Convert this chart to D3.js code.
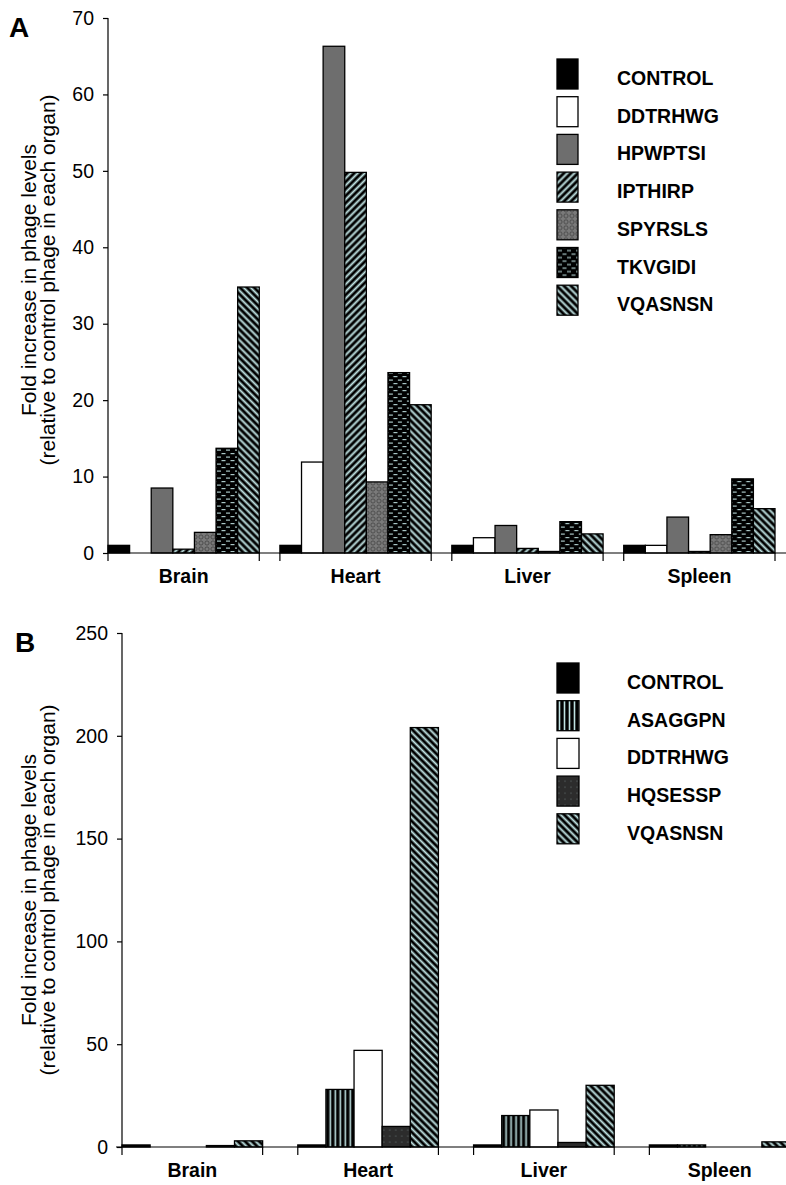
<!DOCTYPE html>
<html>
<head>
<meta charset="utf-8">
<script src="https://cdn.jsdelivr.net/npm/d3@7"></script>
<style>
  body { margin: 0; background: #fff; }
  svg { display: block; font-family: Arial, "Liberation Sans", sans-serif; }
</style>
</head>
<body>
<svg id="chart" width="786" height="1185"></svg>
<script>
var organs = ["Brain", "Heart", "Liver", "Spleen"];

// panel A
var peptidesA = ["CONTROL", "DDTRHWG", "HPWPTSI", "IPTHIRP", "SPYRSLS", "TKVGIDI", "VQASNSN"];
var controlA = [1, 1, 1, 1];
var ddtrhwgA = [0, 11.9, 2.0, 1.0];
var hpwptsiA = [8.5, 66.3, 3.6, 4.7];
var ipthirpA = [0.5, 49.8, 0.6, 0.2];
var spyrslsA = [2.7, 9.3, 0.2, 2.4];
var tkvgidiA = [13.7, 23.6, 4.1, 9.7];
var vqasnsnA = [34.8, 19.4, 2.5, 5.8];
var ticksA = [0, 10, 20, 30, 40, 50, 60, 70];

// panel B
var peptidesB = ["CONTROL", "ASAGGPN", "DDTRHWG", "HQSESSP", "VQASNSN"];
var controlB = [1, 1, 1, 1];
var asaggpnB = [0, 28, 15.3, 1];
var ddtrhwgB = [0, 47, 18, 0];
var hqsesspB = [0.7, 10, 2.2, 0];
var vqasnsnB = [3, 204, 30, 2.5];
var ticksB = [0, 50, 100, 150, 200, 250];

var titleLines = ["Fold increase in phage levels", "(relative to control phage in each organ)"];

var fills = {
  CONTROL: "#000",
  DDTRHWG: "#fff",
  HPWPTSI: "#6e6e6e",
  IPTHIRP: "url(#diagUp)",
  SPYRSLS: "url(#weave)",
  TKVGIDI: "url(#dashes)",
  VQASNSN: "url(#diagDown)",
  ASAGGPN: "url(#vert)",
  HQSESSP: "url(#dots)"
};

var svg = d3.select("#chart");
var light = "#bfe2e2";
var defs = svg.append("defs");

function stripes(id, angle, size, w) {
  var p = defs.append("pattern").attr("id", id)
    .attr("patternUnits", "userSpaceOnUse")
    .attr("width", size).attr("height", size)
    .attr("patternTransform", "rotate(" + angle + ")");
  p.append("rect").attr("width", size).attr("height", size).attr("fill", "#000");
  p.append("rect").attr("x", (size - w) / 2).attr("width", w).attr("height", size).attr("fill", light);
}
stripes("diagUp", 45, 5, 2);
stripes("diagDown", -45, 5, 2);
stripes("vert", 0, 5, 1.6);

var dash = defs.append("pattern").attr("id", "dashes")
  .attr("patternUnits", "userSpaceOnUse").attr("width", 9).attr("height", 7);
dash.append("rect").attr("width", 9).attr("height", 7).attr("fill", "#000");
dash.append("rect").attr("x", 1).attr("y", 1.5).attr("width", 4).attr("height", 1.2).attr("fill", "#a9c6c6");
dash.append("rect").attr("x", 5.5).attr("y", 5).attr("width", 4).attr("height", 1.2).attr("fill", "#a9c6c6");
dash.append("rect").attr("x", -3.5).attr("y", 5).attr("width", 4).attr("height", 1.2).attr("fill", "#a9c6c6");

// mesh of dark rings on mid grey
var weave = defs.append("pattern").attr("id", "weave")
  .attr("patternUnits", "userSpaceOnUse").attr("width", 6).attr("height", 6);
weave.append("rect").attr("width", 6).attr("height", 6).attr("fill", "#7a7a7a");
weave.append("circle").attr("cx", 3).attr("cy", 3).attr("r", 2.1)
  .attr("fill", "none").attr("stroke", "#454545").attr("stroke-width", 0.9);

var dots = defs.append("pattern").attr("id", "dots")
  .attr("patternUnits", "userSpaceOnUse").attr("width", 6).attr("height", 6);
dots.append("rect").attr("width", 6).attr("height", 6).attr("fill", "#2c2c2c");
dots.append("circle").attr("cx", 2).attr("cy", 2).attr("r", 0.6).attr("fill", "#6f7f7f");

var render = function(o) {
  var series = o.peptides.map(function(id, i) {
    return {id: id, values: o.values[i]};
  });

  var x0 = d3.scaleBand().domain(organs).range([o.left, o.right]).paddingInner(o.pad).paddingOuter(0),
      x1 = d3.scaleBand().domain(o.peptides).range([0, x0.bandwidth()]),
      y = d3.scaleLinear().domain([0, o.max]).range([o.bottom, o.top]);

  var g = svg.append("g");

  // y axis
  var ya = g.append("g")
    .attr("transform", "translate(" + o.left + ",0)")
    .call(d3.axisLeft(y).tickValues(o.ticks).tickSize(5).tickPadding(9));
  ya.select(".domain").remove();
  ya.selectAll("line").attr("stroke", "#000").attr("stroke-width", 1.2);
  ya.selectAll("text").attr("fill", "#000").style("font-size", "19.5px");
  g.append("line")
    .attr("x1", o.left).attr("x2", o.left)
    .attr("y1", o.top).attr("y2", o.bottom + 8)
    .attr("stroke", "#000").attr("stroke-width", 1.2);

  // bars
  var grp = g.selectAll(".organ")
    .data(organs)
    .enter().append("g")
    .attr("transform", function(d) { return "translate(" + x0(d) + ",0)"; });

  grp.selectAll("rect")
    .data(function(d, j) { return series.map(function(s) { return {id: s.id, v: s.values[j]}; }); })
    .enter().append("rect")
    .attr("x", function(d) { return x1(d.id); })
    .attr("y", function(d) { return y(d.v); })
    .attr("width", x1.bandwidth())
    .attr("height", function(d) { return o.bottom - y(d.v); })
    .attr("fill", function(d) { return fills[d.id]; })
    .attr("stroke", "#000")
    .attr("stroke-width", 1.3);

  // x axis
  g.append("line")
    .attr("x1", o.axisStart).attr("x2", 786)
    .attr("y1", o.bottom).attr("y2", o.bottom)
    .attr("stroke", "#000").attr("stroke-width", 1.2);
  var edges = [];
  organs.forEach(function(d) { edges.push(x0(d)); edges.push(x0(d) + x0.bandwidth()); });
  g.selectAll(".xtick")
    .data(edges.slice(1))
    .enter().append("line")
    .attr("x1", function(d) { return d; }).attr("x2", function(d) { return d; })
    .attr("y1", o.bottom).attr("y2", o.bottom + 8)
    .attr("stroke", "#000").attr("stroke-width", 1.2);
  g.selectAll(".xlab")
    .data(organs)
    .enter().append("text")
    .attr("x", function(d) { return x0(d) + x0.bandwidth() / 2; })
    .attr("y", o.bottom + 30)
    .attr("text-anchor", "middle")
    .style("font-size", "19.5px").style("font-weight", "bold")
    .text(function(d) { return d; });

  // axis title
  var t = g.append("g").attr("transform", "translate(0," + o.titleY + ") rotate(-90)");
  t.selectAll("text")
    .data(titleLines)
    .enter().append("text")
    .attr("x", 0)
    .attr("y", function(d, i) { return 36 + i * 19; })
    .attr("text-anchor", "middle")
    .style("font-size", "21px")
    .text(function(d) { return d; });

  // panel letter
  g.append("text")
    .attr("x", o.letterX).attr("y", o.letterY)
    .style("font-size", "28px").style("font-weight", "bold")
    .text(o.letter);

  // legend
  var lg = g.selectAll(".legend")
    .data(o.peptides)
    .enter().append("g")
    .attr("transform", function(d, i) { return "translate(557," + (o.legendY + i * o.legendStep) + ")"; });
  lg.append("rect")
    .attr("x", 0).attr("y", -15)
    .attr("width", o.keyW).attr("height", 30)
    .attr("fill", function(d) { return fills[d]; })
    .attr("stroke", "#000").attr("stroke-width", 1.3);
  lg.append("text")
    .attr("x", o.textX - 557).attr("y", 11)
    .style("font-size", "19.5px").style("font-weight", "bold")
    .text(function(d) { return d; });
};

render({
  peptides: peptidesA,
  values: [controlA, ddtrhwgA, hpwptsiA, ipthirpA, spyrslsA, tkvgidiA, vqasnsnA],
  ticks: ticksA, max: 70,
  top: 18, bottom: 553, left: 108, right: 775, pad: 0.12, axisStart: 108,
  titleY: 280, letter: "A", letterX: 9, letterY: 37,
  legendY: 74, legendStep: 37.7, keyW: 21, textX: 617
});

render({
  peptides: peptidesB,
  values: [controlB, asaggpnB, ddtrhwgB, hqsesspB, vqasnsnB],
  ticks: ticksB, max: 250,
  top: 633, bottom: 1147, left: 122, right: 790, pad: 0.2, axisStart: 116,
  titleY: 890, letter: "B", letterX: 15, letterY: 652,
  legendY: 678, legendStep: 37.7, keyW: 22, textX: 627
});
</script>
</body>
</html>
